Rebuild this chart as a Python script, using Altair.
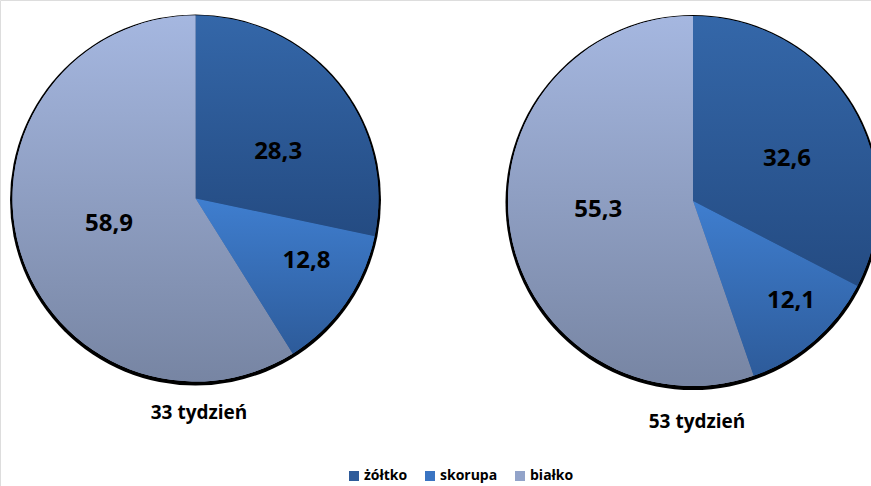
import math

import altair as alt
import pandas as pd

# Egg composition (% of egg mass) at two ages of the laying hens
weeks = ["33 tydzień", "53 tydzień"]
categories = ["żółtko", "skorupa", "białko"]
share_week33 = [28.3, 12.8, 58.9]
share_week53 = [32.6, 12.1, 55.3]

rows = []
for week, shares in zip(weeks, [share_week33, share_week53]):
    for i, (cat, val) in enumerate(zip(categories, shares)):
        rows.append({"week": week, "category": cat, "order": i, "value": val})
df = pd.DataFrame(rows)

FONT = "Open Sans"

# pie geometry (centre, radius, caption position)
PIES = {
    "33 tydzień": {"cx": 195.5, "cy": 198.5, "r": 183, "title_y": 413, "title_x": 199},
    "53 tydzień": {"cx": 693, "cy": 201, "r": 185, "title_y": 422, "title_x": 697},
}

# vertical gradients for each slice (top, bottom)
GRADIENTS = {
    "żółtko": ("#3467A9", "#244B82"),
    "skorupa": ("#3F7ECF", "#2D5B9A"),
    "białko": ("#A5B7E0", "#7785A3"),
}
LEGEND_COLORS = ["#2E5B9A", "#3A74C2", "#92A3C9"]

# value label placement: radius from centre plus small nudges
LABEL_STYLE = {
    ("33 tydzień", "żółtko"): (100, 5, 17),
    ("33 tydzień", "skorupa"): (128, 6, -11),
    ("33 tydzień", "białko"): (90, 0, 1),
    ("53 tydzień", "żółtko"): (103, 6, 12),
    ("53 tydzień", "skorupa"): (139, 7, -5),
    ("53 tydzień", "białko"): (96, 0, -7),
}

theta_scale = alt.Scale(domain=[0, 100], range=[0, 2 * math.pi])

base = (
    alt.Chart(df)
    .transform_window(
        end="sum(value)",
        sort=[alt.SortField("order")],
        groupby=["week"],
        frame=[None, 0],
    )
    .transform_calculate(
        start="datum.end - datum.value",
        mid="datum.end - datum.value / 2",
        label="replace(format(datum.value, '.1f'), '.', ',')",
    )
)

one_row = alt.Chart(pd.DataFrame({"k": [0]}))

layers = []
for week in weeks:
    p = PIES[week]
    cx, cy, r = p["cx"], p["cy"], p["r"]
    week_data = base.transform_filter(alt.datum.week == week)

    # dark rim / shadow under the pie
    layers.append(
        one_row.mark_arc(theta=0, theta2=2 * math.pi, radius=r + 2.5, color="black").encode(
            x=alt.value(cx), y=alt.value(cy + 1.5)
        )
    )

    # solid slices carrying the colour legend
    layers.append(
        week_data.mark_arc(radius=r).encode(
            x=alt.value(cx),
            y=alt.value(cy),
            theta=alt.Theta("start:Q", scale=theta_scale, stack=False),
            theta2=alt.Theta2("end:Q"),
            color=alt.Color(
                "category:N",
                scale=alt.Scale(domain=categories, range=LEGEND_COLORS),
                legend=alt.Legend(
                    orient="none",
                    legendX=347,
                    legendY=469,
                    direction="horizontal",
                    title=None,
                    symbolType="square",
                    symbolSize=100,
                    symbolStrokeWidth=0,
                    labelFont=FONT,
                    labelFontSize=14,
                    labelFontWeight="bold",
                    labelColor="black",
                    labelOffset=3,
                    columnPadding=15,
                ),
            ),
        )
    )

    # gradient-filled slices on top
    for cat in categories:
        top, bottom = GRADIENTS[cat]
        grad = alt.Gradient(
            gradient="linear",
            stops=[
                alt.GradientStop(color=top, offset=0),
                alt.GradientStop(color=bottom, offset=1),
            ],
            x1=0,
            x2=0,
            y1=0,
            y2=1,
        )
        layers.append(
            week_data.transform_filter(alt.datum.category == cat)
            .mark_arc(radius=r, fill=grad)
            .encode(
                x=alt.value(cx),
                y=alt.value(cy),
                theta=alt.Theta("start:Q", scale=theta_scale, stack=False),
                theta2=alt.Theta2("end:Q"),
            )
        )

    # value labels
    for cat in categories:
        rad, dx, dy = LABEL_STYLE[(week, cat)]
        layers.append(
            week_data.transform_filter(alt.datum.category == cat)
            .mark_text(
                radius=rad,
                dx=dx,
                dy=dy,
                font=FONT,
                fontSize=24,
                fontWeight="bold",
                color="black",
                align="center",
                baseline="middle",
            )
            .encode(
                x=alt.value(cx),
                y=alt.value(cy),
                theta=alt.Theta("mid:Q", scale=theta_scale, stack=False),
                text=alt.Text("label:N"),
            )
        )

    # caption under the pie
    layers.append(
        one_row.mark_text(
            text=week,
            font=FONT,
            fontSize=19,
            fontWeight="bold",
            color="black",
            align="center",
            baseline="middle",
        ).encode(x=alt.value(p["title_x"]), y=alt.value(p["title_y"]))
    )

chart = (
    alt.layer(*layers)
    .properties(width=871, height=486, autosize=alt.AutoSizeParams(type="none"), padding=0)
    .configure_view(stroke=None)
    .configure(background="white")
)

chart.save("out.html", embed_options={"renderer": "svg", "actions": False})
